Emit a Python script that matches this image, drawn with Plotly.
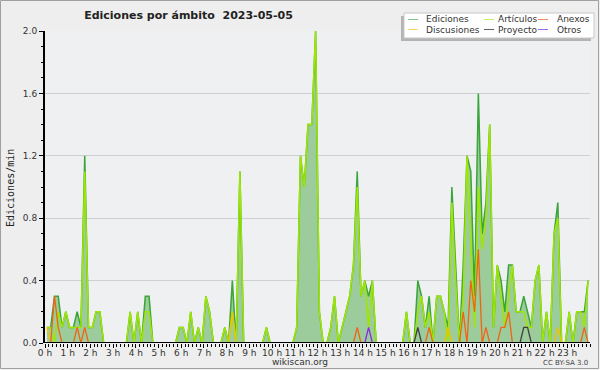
import plotly.graph_objects as go

# 10-minute slots (144 per day), values in edits/min
ediciones = [
    0.1, 0.1, 0.3, 0.3, 0.1, 0.2,   # 0 h
    0.1, 0.1, 0.2, 0.1, 1.2, 0.1,   # 1 h
    0.1, 0.2, 0.2, 0, 0, 0,         # 2 h
    0, 0, 0, 0, 0.2, 0,             # 3 h
    0.2, 0, 0.3, 0.3, 0, 0,         # 4 h
    0, 0, 0, 0, 0, 0.1,             # 5 h
    0.1, 0, 0.2, 0, 0.1, 0,         # 6 h
    0.3, 0.2, 0, 0, 0, 0.1,         # 7 h
    0, 0.4, 0, 1.1, 0, 0,           # 8 h
    0, 0, 0, 0, 0.1, 0,             # 9 h
    0, 0, 0, 0, 0, 0,               # 10 h
    0.1, 1.2, 1.0, 1.4, 1.4, 2.0,   # 11 h
    0.2, 0, 0, 0.1, 0.3, 0,         # 12 h
    0.1, 0.2, 0.3, 0.5, 1.1, 0.3,   # 13 h
    0.4, 0.3, 0.4, 0, 0, 0,         # 14 h
    0, 0, 0, 0, 0, 0.2,             # 15 h
    0, 0, 0.4, 0.3, 0.1, 0.3,       # 16 h
    0, 0.3, 0.3, 0.2, 0.1, 1.0,     # 17 h
    0.5, 0, 0.5, 1.2, 1.1, 0.3,     # 18 h
    1.6, 0.7, 0.9, 1.4, 0.1, 0.5,   # 19 h
    0.4, 0.2, 0.5, 0.5, 0.2, 0.2,   # 20 h
    0.3, 0.2, 0.1, 0.4, 0.5, 0,     # 21 h
    0.2, 0, 0.7, 0.9, 0, 0,         # 22 h
    0.2, 0, 0.2, 0.2, 0.2, 0.4,     # 23 h
]

articulos = [
    0.1, 0.1, 0, 0.2, 0.1, 0.2,
    0.1, 0.1, 0.1, 0.1, 1.1, 0.1,
    0.1, 0.2, 0.2, 0, 0, 0,
    0, 0, 0, 0, 0.2, 0,
    0.2, 0, 0.2, 0.2, 0, 0,
    0, 0, 0, 0, 0, 0.1,
    0.1, 0, 0.2, 0, 0.1, 0,
    0.3, 0.2, 0, 0, 0, 0.1,
    0, 0.2, 0, 1.1, 0, 0,
    0, 0, 0, 0, 0.1, 0,
    0, 0, 0, 0, 0, 0,
    0.1, 1.2, 1.0, 1.4, 1.4, 2.0,
    0.2, 0, 0, 0.1, 0.3, 0,
    0.1, 0.2, 0.3, 0.5, 1.0, 0.3,
    0.4, 0.1, 0.4, 0, 0, 0,
    0, 0, 0, 0, 0, 0.2,
    0, 0, 0.2, 0.3, 0.1, 0.2,
    0, 0.3, 0.3, 0.2, 0, 0.9,
    0.4, 0, 0.3, 1.2, 0.7, 0.1,
    1.0, 0.6, 0.8, 1.4, 0.1, 0.5,
    0.3, 0.1, 0.3, 0.5, 0.2, 0.2,
    0.2, 0.1, 0.1, 0.4, 0.5, 0,
    0.2, 0, 0.7, 0.8, 0, 0,
    0.2, 0, 0.2, 0.2, 0.1, 0.4,
]

anexos = [
    0, 0, 0.3, 0.1, 0, 0,
    0, 0, 0.1, 0, 0.1, 0,
    0, 0, 0, 0, 0, 0,
    0, 0, 0, 0, 0, 0,
    0, 0, 0, 0, 0, 0,
    0, 0, 0, 0, 0, 0,
    0, 0, 0, 0, 0, 0,
    0, 0, 0, 0, 0, 0,
    0, 0, 0, 0, 0, 0,
    0, 0, 0, 0, 0, 0,
    0, 0, 0, 0, 0, 0,
    0, 0, 0, 0, 0, 0,
    0, 0, 0, 0, 0, 0,
    0, 0, 0, 0, 0.1, 0,
    0, 0, 0, 0, 0, 0,
    0, 0, 0, 0, 0, 0,
    0, 0, 0, 0, 0, 0.1,
    0, 0, 0, 0, 0, 0,
    0, 0, 0.2, 0, 0.4, 0.2,
    0.6, 0, 0.1, 0, 0, 0,
    0.1, 0.1, 0.2, 0, 0, 0,
    0, 0, 0, 0, 0, 0,
    0, 0, 0, 0, 0, 0,
    0, 0, 0, 0, 0.1, 0,
]

discusiones = [0.0] * 144
for idx, v in [(0, 0.1), (49, 0.2), (106, 0.1), (135, 0.1)]:
    discusiones[idx] = v

proyecto = [0.0] * 144
for idx, v in [(98, 0.1), (126, 0.1), (127, 0.1)]:
    proyecto[idx] = v

otros = [0.0] * 144
for idx, v in [(85, 0.1)]:
    otros[idx] = v

hours = [(i + 0.5) / 6 for i in range(144)]
hour_ticks = list(range(24))
hour_labels = [f"{h} h" for h in hour_ticks]

W, H = 600, 370
L, R, T, B = 45, 590, 31, 343


def px(x):
    return (x - L) / (R - L)


def py(y):
    return (B - y) / (B - T)


fig = go.Figure()
fig.add_trace(go.Scatter(x=hours, y=ediciones, mode="lines", fill="tozeroy",
                         fillcolor="#9ccb9c", line=dict(color="#3aa53a", width=1.5),
                         name="Ediciones", showlegend=False))
fig.add_trace(go.Scatter(x=hours, y=articulos, mode="lines",
                         line=dict(color="#9fe600", width=1.5), name="Artículos", showlegend=False))
fig.add_trace(go.Scatter(x=hours, y=discusiones, mode="lines",
                         line=dict(color="#f2c200", width=1.3), name="Discusiones", showlegend=False))
fig.add_trace(go.Scatter(x=hours, y=proyecto, mode="lines",
                         line=dict(color="#404040", width=1.3), name="Proyecto", showlegend=False))
fig.add_trace(go.Scatter(x=hours, y=anexos, mode="lines",
                         line=dict(color="#f06414", width=1.3), name="Anexos", showlegend=False))
fig.add_trace(go.Scatter(x=hours, y=otros, mode="lines",
                         line=dict(color="#8a2be2", width=1.3), name="Otros", showlegend=False))

shapes = []
annotations = []

# frame
shapes.append(dict(type="rect", xref="paper", yref="paper",
                   x0=px(0.5), x1=px(598.5), y0=py(368.5), y1=py(0.5),
                   line=dict(color="#a0a0a0", width=1), layer="below"))

# baseline (x axis line) drawn over the traces
shapes.append(dict(type="line", xref="paper", yref="y", x0=0, x1=1, y0=0, y1=0,
                   line=dict(color="#000000", width=2), layer="above"))

# legend box with shadow
shapes.append(dict(type="rect", xref="paper", yref="paper",
                   x0=px(401), x1=px(591), y0=py(41), y1=py(16),
                   line=dict(width=0), fillcolor="#b4b4b4"))
shapes.append(dict(type="rect", xref="paper", yref="paper",
                   x0=px(404), x1=px(594), y0=py(38), y1=py(13),
                   line=dict(color="#c8c8c8", width=1), fillcolor="#ffffff"))

legend_items = [
    ("Ediciones", "#7cc87c", 408, 424, 19.5),
    ("Artículos", "#c8ee60", 484, 496, 19.5),
    ("Anexos", "#f48a5a", 538, 555, 19.5),
    ("Discusiones", "#f8d860", 408, 424, 29.5),
    ("Proyecto", "#606060", 484, 496, 29.5),
    ("Otros", "#9a6af0", 538, 555, 29.5),
]
for name, col, lx, tx, yy in legend_items:
    shapes.append(dict(type="line", xref="paper", yref="paper",
                       x0=px(lx), x1=px(lx + 10), y0=py(yy), y1=py(yy),
                       line=dict(color=col, width=1)))
    annotations.append(dict(text=name, xref="paper", yref="paper", x=px(tx), y=py(yy),
                            xanchor="left", yanchor="middle", showarrow=False,
                            font=dict(family="DejaVu Sans", size=9, color="#333333")))

annotations.append(dict(text="Ediciones/min", xref="paper", yref="paper",
                        x=px(10), y=py(188), textangle=-90, showarrow=False,
                        xanchor="center", yanchor="middle",
                        font=dict(family="DejaVu Sans Mono", size=10, color="#222222")))
annotations.append(dict(text="wikiscan.org", xref="paper", yref="paper",
                        x=px(300), y=py(362), showarrow=False,
                        xanchor="center", yanchor="middle",
                        font=dict(family="DejaVu Sans", size=9, color="#333333")))
annotations.append(dict(text="CC BY-SA 3.0", xref="paper", yref="paper",
                        x=px(590), y=py(363), showarrow=False,
                        xanchor="right", yanchor="middle",
                        font=dict(family="DejaVu Sans", size=7, color="#444444")))

fig.update_layout(
    width=W, height=H,
    margin=dict(l=L, r=W - R, t=T, b=H - B, pad=0),
    paper_bgcolor="#eeeeee",
    plot_bgcolor="#eff0f2",
    title=dict(text="<b>Ediciones por ámbito  2023-05-05</b>", x=188.5 / W, y=1 - 15 / H,
               xanchor="center", yanchor="middle",
               font=dict(family="DejaVu Sans", size=11, color="#222222")),
    shapes=shapes,
    annotations=annotations,
    showlegend=False,
    xaxis=dict(range=[0, 24], tickvals=hour_ticks, ticktext=hour_labels,
               showgrid=False, zeroline=False, showline=False,
               ticks="outside", ticklen=4, tickwidth=1, tickcolor="#000000",
               ticklabelstandoff=-3,
               tickfont=dict(family="DejaVu Sans", size=9, color="#333333"),
               minor=dict(dtick=1 / 6, tick0=0, ticks="outside", ticklen=3, tickcolor="#000000",
                          showgrid=False),
               fixedrange=True),
    yaxis=dict(range=[0, 2.0], tickvals=[0, 0.4, 0.8, 1.2, 1.6, 2.0], tickformat=".1f",
               showgrid=True, gridcolor="#cfcfcf", gridwidth=1, zeroline=False,
               showline=True, linecolor="#000000", linewidth=2,
               ticks="outside", ticklen=4, tickwidth=1, tickcolor="#000000",
               tickfont=dict(family="DejaVu Sans", size=9, color="#333333"),
               minor=dict(dtick=0.1, tick0=0, ticks="outside", ticklen=2, tickcolor="#000000",
                          showgrid=False),
               fixedrange=True),
)

fig.write_html("out.html", config={"displayModeBar": False},
               post_script="document.body.style.margin='0';document.body.style.overflow='hidden';")
